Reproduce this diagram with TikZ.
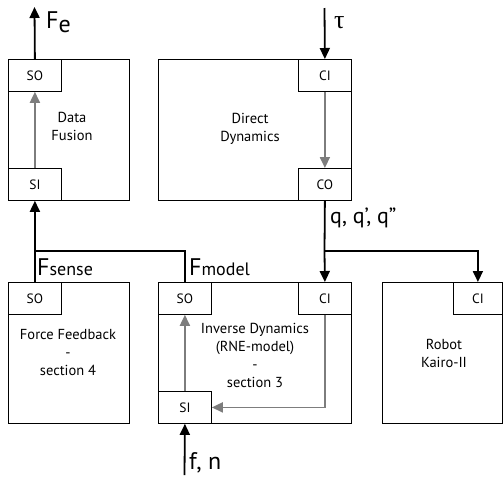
\documentclass[tikz,border=0pt]{standalone}
\usepackage{fontspec}
\setmainfont{PT Sans}
\newfontfamily\greekfont{Liberation Serif}
\usetikzlibrary{positioning,arrows.meta}
\definecolor{portgray}{RGB}{125,125,125}

\begin{document}
\begin{tikzpicture}[x=1pt,y=-1pt,
  block/.style={draw,line width=.8pt,anchor=north west,minimum width=121pt,minimum height=141pt,inner sep=0pt},
  port/.style={draw,line width=.8pt,anchor=north west,minimum width=53pt,minimum height=32pt,inner sep=0pt,font=\fontsize{13.5}{15}\selectfont},
  blocktext/.style={align=center,font=\fontsize{14.5}{18}\selectfont},
  big/.style={anchor=base west,inner sep=0pt,font=\fontsize{24}{26}\selectfont},
  sig/.style={line width=1.8pt,-{Triangle[length=11pt,width=10pt]}},
  inner/.style={line width=1.8pt,portgray,-{Triangle[length=11pt,width=10pt]}}]
\useasboundingbox (0,0) rectangle (503,477);

% blocks
\node[block] (fusion) at (8,59) {};
\node[block,minimum width=193pt] (direct) at (158,59) {};
\node[block] (feedback) at (8,282) {};
\node[block,minimum width=193pt] (inverse) at (158,282) {};
\node[block,minimum width=120pt] (robot) at (382,282) {};

% ports
\node[port] (fusionSO) at (8,59) {SO};
\node[port] (fusionSI) at (8,168) {SI};
\node[port] (directCI) at (298,59) {CI};
\node[port] (directCO) at (298,168) {CO};
\node[port] (feedbackSO) at (8,282) {SO};
\node[port] (inverseSO) at (158,282) {SO};
\node[port] (inverseCI) at (298,282) {CI};
\node[port] (inverseSI) at (158,391) {SI};
\node[port,minimum width=49pt] (robotCI) at (453,282) {CI};

\node[blocktext] (fusiontext) at (72,126) {Data\\Fusion};
\node[blocktext] (directtext) at (250,129) {Direct\\Dynamics};
\node[blocktext] (feedbacktext) at (68,353) {Force Feedback\\-\\section 4};
\node[blocktext] (inversetext) at (255,355) {Inverse Dynamics\\(RNE-model)\\-\\section 3};
\node[blocktext] (robottext) at (444,353) {Robot\\Kairo-II};

\coordinate (feout) at (34.5,7);
\coordinate (tauin) at (324.5,8);
\coordinate (split) at (324.5,251);
\coordinate (join) at (34.5,251);
\coordinate (fnin) at (184.5,475);

% signals
\draw[sig] (fusionSO.north) -- (feout);
\draw[sig] (tauin) -- (directCI.north);
\draw[inner] (fusionSI.north) -- (fusionSO.south);
\draw[inner] (directCI.south) -- (directCO.north);
\draw[line width=1.8pt] (directCO.south) -- (split);
\draw[sig] (split) -- (inverseCI.north);
\draw[sig] (split) -| (robotCI.north);
\draw[sig] (feedbackSO.north) -- (fusionSI.south);
\draw[line width=1.8pt] (inverseSO.north) |- (join);
\draw[inner] (inverseSI.north) -- (inverseSO.south);
\draw[inner] (inverseCI.south) |- (inverseSI.east);
\draw[sig] (fnin) -- (inverseSI.south);

% labels
\node[big] (felabel) at (46,28) {F\raisebox{-4pt}{e}};
\node[big,font=\fontsize{26}{28}\greekfont] (taulabel) at (334,28) {τ};
\node[big,font=\fontsize{22}{24}\selectfont] (qlabel) at (330,223) {q, q’, q”};
\node[big] (senselabel) at (37,275) {F{\fontsize{18}{18}\selectfont sense}};
\node[big] (modellabel) at (189,275) {F{\fontsize{18}{18}\selectfont model}};
\node[big] (fnlabel) at (189,469) {f, n};
\end{tikzpicture}
\end{document}
